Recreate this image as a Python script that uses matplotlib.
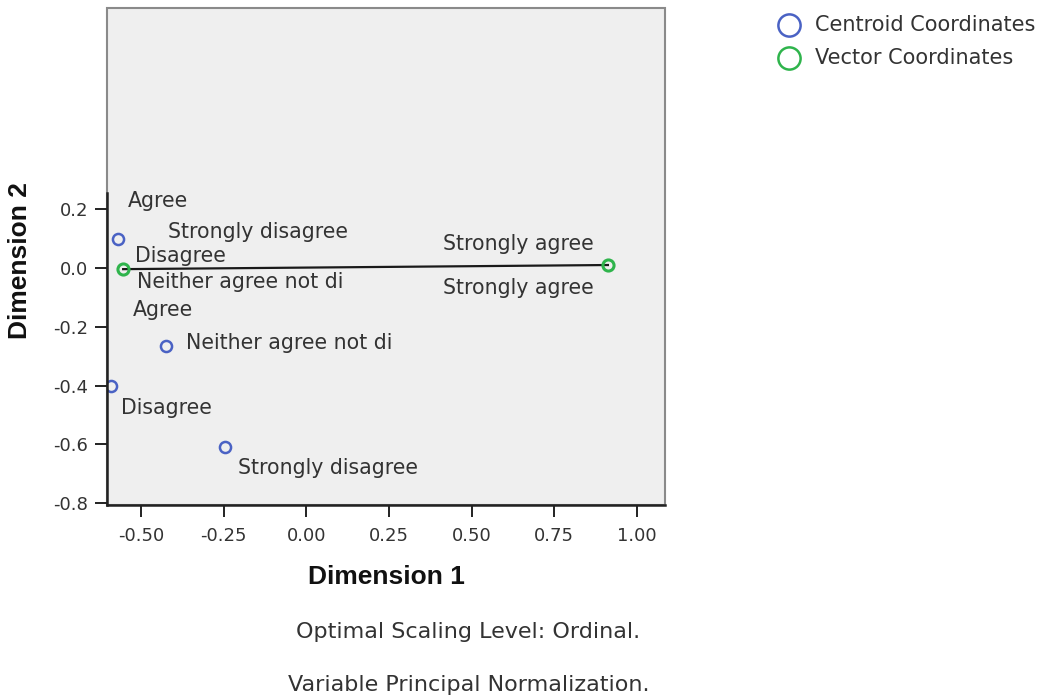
import matplotlib
matplotlib.use("Agg")
import matplotlib.pyplot as plt
from matplotlib.lines import Line2D
from matplotlib.ticker import FormatStrFormatter

# category points
centroid_x = [-0.570, -0.424, -0.592, -0.245]
centroid_y = [0.099, -0.265, -0.400, -0.608]
vector_x = [-0.554, 0.912]
vector_y = [-0.004, 0.010]

# category labels (text, left x, centre y)
label_text = ["Agree", "Strongly disagree", "Disagree", "Neither agree not di",
              "Agree", "Neither agree not di", "Disagree", "Strongly disagree",
              "Strongly agree", "Strongly agree"]
label_x = [-0.540, -0.419, -0.518, -0.513, -0.524, -0.365, -0.560, -0.207, 0.412, 0.412]
label_y = [0.229, 0.123, 0.041, -0.048, -0.143, -0.255, -0.475, -0.680, 0.082, -0.067]

xticks = [-0.50, -0.25, 0.00, 0.25, 0.50, 0.75, 1.00]
yticks = [-0.8, -0.6, -0.4, -0.2, 0.0, 0.2]

blue = "#4a62c4"
green = "#2fb44c"
txt = "#333333"

plt.rcParams["font.family"] = "DejaVu Sans"
plt.rcParams["axes.unicode_minus"] = False

W, H = 1056, 699
fig = plt.figure(figsize=(W / 100, H / 100), dpi=100)
ax = fig.add_axes([107 / W, 1 - 505 / H, 558 / W, 497 / H])
ax.set_xlim(-0.6028, 1.0847)
ax.set_ylim(-0.806, 0.884)

ax.patch.set_facecolor("#efefef")
ax.patch.set_edgecolor("#8a8a8a")
ax.patch.set_linewidth(1.5)
ax.spines["top"].set_visible(False)
ax.spines["right"].set_visible(False)
ax.spines["left"].set_bounds(-0.806, 0.255)
for s in ("left", "bottom"):
    ax.spines[s].set_color("#222222")
    ax.spines[s].set_linewidth(1.8)
    ax.spines[s].set_zorder(5)

ax.set_xticks(xticks)
ax.set_yticks(yticks)
ax.xaxis.set_major_formatter(FormatStrFormatter("%.2f"))
ax.yaxis.set_major_formatter(FormatStrFormatter("%.1f"))
ax.tick_params(direction="out", length=8.5, width=1.4, color="#222222",
               labelcolor=txt, labelsize=13)
ax.tick_params(axis="x", pad=7)
ax.tick_params(axis="y", pad=5)

# vector line and points
ax.plot(vector_x, vector_y, color="#1a1a1a", lw=1.6, zorder=2)
ax.plot(centroid_x, centroid_y, ls="", marker="o", ms=8, mfc="none",
        mec=blue, mew=1.8, zorder=3)
ax.plot(vector_x, vector_y, ls="", marker="o", ms=8, mfc="none",
        mec=green, mew=2.2, zorder=3)

for t, x, y in zip(label_text, label_x, label_y):
    ax.text(x, y, t, ha="left", va="center", fontsize=14.8, color=txt, zorder=4)

# axis titles
fig.text(386 / W, 1 - 577 / H, "Dimension 1", ha="center", va="center",
         fontsize=19, fontweight="bold", family="Liberation Sans", color="#111111")
fig.text(20 / W, 1 - 261 / H, "Dimension 2", ha="center", va="center", rotation=90,
         fontsize=19, fontweight="bold", family="Liberation Sans", color="#111111")

# legend
legend_items = [("Centroid Coordinates", blue, 25), ("Vector Coordinates", green, 58)]
for name, col, py in legend_items:
    fig.add_artist(Line2D([789 / W], [1 - py / H], marker="o", ms=16, mfc="none",
                          mec=col, mew=1.8, transform=fig.transFigure))
    fig.text(815 / W, 1 - py / H, name, ha="left", va="center", fontsize=15, color=txt)

# footnotes
fig.text(468 / W, 1 - 632 / H, "Optimal Scaling Level: Ordinal.", ha="center",
         va="center", fontsize=16, color=txt)
fig.text(469 / W, 1 - 685 / H, "Variable Principal Normalization.", ha="center",
         va="center", fontsize=16, color=txt)

fig.savefig("out.png", dpi=100, facecolor="white")
